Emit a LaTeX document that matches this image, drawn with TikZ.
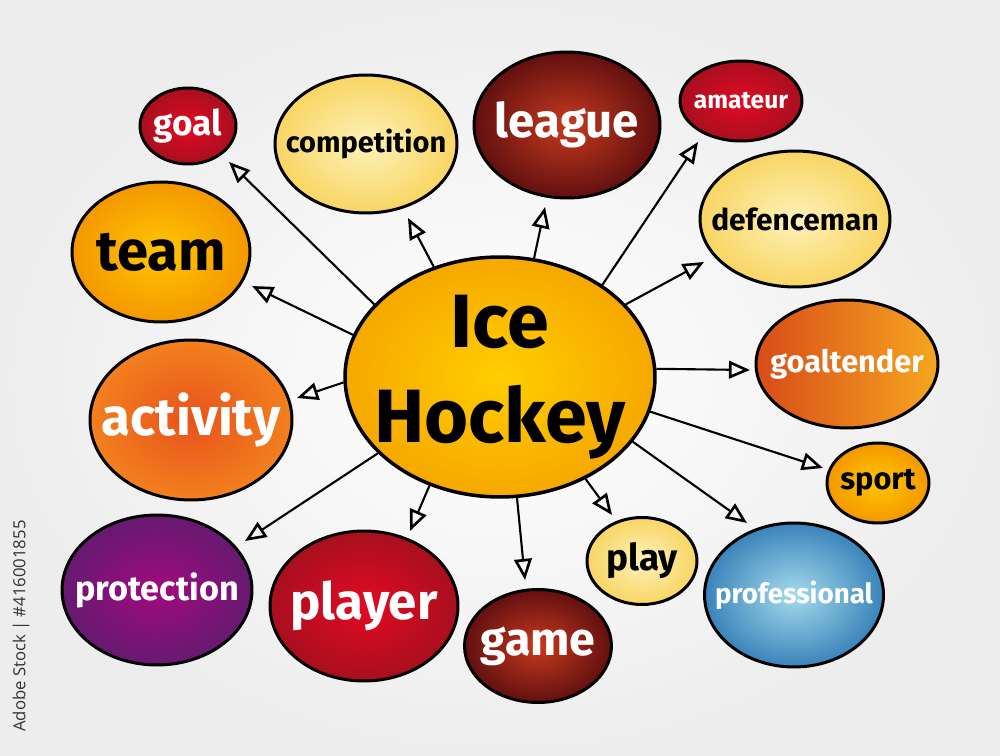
\documentclass[tikz,border=0pt]{standalone}
\usepackage{fontspec}
\setmainfont{Fira Sans}
\newfontfamily\stockfont{Open Sans}
\usetikzlibrary{arrows.meta,shapes.geometric}
\definecolor{hubin}{RGB}{255,206,0}
\definecolor{hubout}{RGB}{246,168,0}
\definecolor{creamin}{RGB}{254,241,185}
\definecolor{creamout}{RGB}{248,214,100}
\definecolor{maroonin}{RGB}{198,58,30}
\definecolor{maroonout}{RGB}{98,16,16}
\definecolor{redin}{RGB}{226,10,35}
\definecolor{redout}{RGB}{168,15,30}
\definecolor{purplein}{RGB}{160,10,125}
\definecolor{purpleout}{RGB}{102,26,112}
\definecolor{bluein}{RGB}{165,218,236}
\definecolor{blueout}{RGB}{58,132,186}
\definecolor{amberin}{RGB}{255,198,0}
\definecolor{amberout}{RGB}{244,152,0}
\definecolor{orangein}{RGB}{232,82,27}
\definecolor{orangeout}{RGB}{242,128,30}
\definecolor{tenderleft}{RGB}{216,76,24}
\definecolor{tenderright}{RGB}{246,166,32}
\newcommand\hand[1]{\fontsize{#1}{#1}\selectfont\bfseries}

\begin{document}
\begin{tikzpicture}[x=0.02cm, y=-0.02cm]
    \tikzstyle{bubble} = [ellipse, draw=black, line width=1.7pt, inner sep=0pt]
    \tikzstyle{dark} = [text=white]
    \tikzstyle{link} = [line width=1.2pt, -{Triangle[open, line width=1.5pt, length=12pt, width=10pt]}]
    \shade[inner color=white, outer color=black!7] (0,0) rectangle (1000,756);
    \useasboundingbox (0,0) rectangle (1000,756);

    \node[bubble, line width=2pt, minimum width=6.2cm, minimum height=4.8cm, inner color=hubin, outer color=hubout,
        label={[align=center, font={\fontsize{43}{54}\selectfont\bfseries}]center:{Ice\\Hockey}}] (hub) at (500,377) {};

    \node[bubble, minimum width=1.92cm, minimum height=1.52cm, inner color=redin, outer color=redout,
        label={[dark, font=\hand{20}]center:goal}] (goal) at (188,126) {};
    \node[bubble, minimum width=3.64cm, minimum height=2.76cm, inner color=creamin, outer color=creamout,
        label={[font=\hand{16.5}]center:competition}] (competition) at (366,144) {};
    \node[bubble, minimum width=3.72cm, minimum height=2.92cm, inner color=maroonin, outer color=maroonout,
        label={[dark, font=\hand{27}]center:league}] (league) at (567,125) {};
    \node[bubble, minimum width=2.44cm, minimum height=1.6cm, inner color=redin, outer color=redout,
        label={[dark, font=\hand{14}]center:amateur}] (amateur) at (741,101) {};
    \node[bubble, minimum width=3.8cm, minimum height=2.72cm, inner color=creamin, outer color=creamout,
        label={[font=\hand{17}]center:defenceman}] (defenceman) at (795,219) {};
    \node[bubble, minimum width=3.56cm, minimum height=2.8cm, inner color=amberin, outer color=amberout,
        label={[font=\hand{32}]center:team}] (team) at (161,252) {};
    \node[bubble, minimum width=3.64cm, minimum height=2.56cm, left color=tenderleft, right color=tenderright,
        label={[dark, font=\hand{17.5}]center:goaltender}] (goaltender) at (847,364) {};
    \node[bubble, minimum width=4.04cm, minimum height=3.2cm, inner color=orangein, outer color=orangeout,
        label={[dark, font=\hand{30}]center:activity}] (activity) at (191,420) {};
    \node[bubble, minimum width=2.04cm, minimum height=1.6cm, inner color=amberin, outer color=amberout,
        label={[font=\hand{17.5}]center:sport}] (sport) at (878,483) {};
    \node[bubble, minimum width=3.8cm, minimum height=3.0cm, inner color=purplein, outer color=purpleout,
        label={[dark, font=\hand{19.5}]center:protection}] (protection) at (157,590) {};
    \node[bubble, minimum width=3.76cm, minimum height=3.0cm, inner color=redin, outer color=redout,
        label={[dark, font=\hand{29}]center:player}] (player) at (364,606) {};
    \node[bubble, minimum width=2.94cm, minimum height=2.26cm, inner color=maroonin, outer color=maroonout,
        label={[dark, font=\hand{26.5}]center:game}] (game) at (538,646) {};
    \node[bubble, minimum width=2.2cm, minimum height=1.74cm, inner color=creamin, outer color=creamout,
        label={[font=\hand{21}]center:play}] (play) at (642,561) {};
    \node[bubble, minimum width=3.58cm, minimum height=2.88cm, inner color=bluein, outer color=blueout,
        label={[dark, font=\hand{15.8}]center:professional}] (professional) at (794,595) {};

    \coordinate (goal-tip) at (229,162);
    \coordinate (competition-tip) at (408,218);
    \coordinate (league-tip) at (545,207);
    \coordinate (amateur-tip) at (698,142);
    \coordinate (defenceman-tip) at (704,262);
    \coordinate (team-tip) at (252,286);
    \coordinate (goaltender-tip) at (750,370);
    \coordinate (activity-tip) at (297,398);
    \coordinate (sport-tip) at (823,468);
    \coordinate (protection-tip) at (245,541);
    \coordinate (player-tip) at (410,531);
    \coordinate (game-tip) at (525,580);
    \coordinate (play-tip) at (612,515);
    \coordinate (professional-tip) at (747,523);

    \draw[link] (hub.150) -- (goal-tip);
    \draw[link] (hub.121) -- (competition-tip);
    \draw[link] (hub.74) -- (league-tip);
    \draw[link] (hub.42) -- (amateur-tip);
    \draw[link] (hub.30) -- (defenceman-tip);
    \draw[link] (hub.164) -- (team-tip);
    \draw[link] (hub.3) -- (goaltender-tip);
    \draw[link] (hub.182) -- (activity-tip);
    \draw[link] (hub.-13) -- (sport-tip);
    \draw[link] (hub.212) -- (protection-tip);
    \draw[link] (hub.237) -- (player-tip);
    \draw[link] (hub.278) -- (game-tip);
    \draw[link] (hub.-50) -- (play-tip);
    \draw[link] (hub.-26) -- (professional-tip);

    \node[rotate=90, text=black!80, font={\stockfont\fontsize{9.5}{9.5}\selectfont}] (stock) at (21,626) {Adobe Stock | \#416001855};
\end{tikzpicture}
\end{document}
